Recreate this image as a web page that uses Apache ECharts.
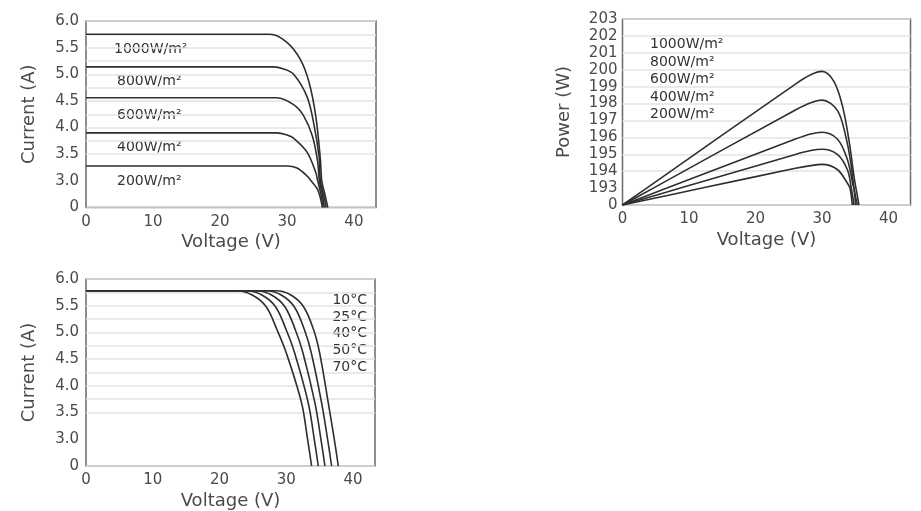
<!DOCTYPE html>
<html>
<head>
<meta charset="utf-8">
<script src="https://cdn.jsdelivr.net/npm/echarts@6/dist/echarts.min.js"></script>
<style>html,body{margin:0;padding:0;background:#fff}#c{width:921px;height:511px}</style>
</head>
<body>
<div id="c"></div>
<script>
// ---------- data ----------
const xTickMax = 43.3;
const irradianceLabels = ['1000W/m²', '800W/m²', '600W/m²', '400W/m²', '200W/m²'];
const tempLabels = ['10°C', '25°C', '40°C', '50°C', '70°C'];

// I-V curves by irradiance  [voltage V, current A]
const iv1000 = [[0,5.75],[20,5.75],[27.5,5.75],[30,5.6],[32,5.28],[33.3,4.85],[34.3,4.22],[35,3.4],[35.2,3.0],[35.7,1.4],[36.1,0]];
const iv800  = [[0,5.14],[20,5.14],[28,5.14],[29.5,5.1],[31,5.0],[33,4.58],[34,4.08],[34.8,3.45],[35.0,3.0],[35.5,1.4],[35.85,0]];
const iv600  = [[0,4.56],[20,4.56],[28.5,4.56],[31,4.43],[32.5,4.22],[33.8,3.84],[34.6,3.35],[34.85,3.0],[35.3,1.4],[35.6,0]];
const iv400  = [[0,3.9],[20,3.9],[28.5,3.9],[30,3.86],[31,3.8],[33,3.54],[34.3,3.16],[34.6,3.0],[35.1,1.4],[35.4,0]];
const iv200  = [[0,3.28],[20,3.28],[30,3.28],[31.5,3.24],[33.1,3.08],[33.6,3.0],[34.6,2.0],[35.3,0]];

// P-V curves by irradiance  [voltage V, power W]
const pv1000 = [[0,0],[3.64,193],[26,199.15],[28.3,199.7],[30,199.9],[31.8,199.3],[33.1,197.8],[34.1,195.7],[34.8,193.7],[35.1,193],[35.55,0]];
const pv800  = [[0,0],[4.63,193],[26,197.62],[28.3,198.05],[30,198.2],[32.3,197.6],[33.6,196.0],[34.4,194.3],[34.8,193],[35.3,0]];
const pv600  = [[0,0],[6.67,193],[26,195.9],[28.3,196.2],[30,196.3],[32.3,195.9],[33.8,194.7],[34.7,193.1],[34.8,193],[35.05,0]];
const pv400  = [[0,0],[8.7,193],[26,194.99],[28.3,195.22],[30,195.3],[32.3,195.0],[33.8,194.1],[34.4,193],[34.8,0]];
const pv200  = [[0,0],[11.96,193],[26,194.17],[28.3,194.33],[30,194.4],[32.3,194.1],[33.8,193.3],[34.2,193],[34.55,0]];

// I-V curves by temperature  [voltage V, current A]
const it10 = [[0,5.78],[20,5.78],[28.5,5.78],[30.7,5.70],[32.6,5.48],[34.1,5.05],[35.0,4.62],[36.3,3.68],[37.2,3.0],[37.8,0]];
const it25 = [[0,5.78],[20,5.78],[27.0,5.78],[29.25,5.70],[31.2,5.48],[32.73,5.05],[33.75,4.62],[35.3,3.68],[36.2,3.0],[36.8,0]];
const it40 = [[0,5.78],[20,5.78],[25.5,5.78],[27.8,5.70],[29.8,5.48],[31.36,5.05],[32.5,4.62],[34.3,3.68],[35.2,3.0],[35.8,0]];
const it50 = [[0,5.78],[15,5.78],[24.0,5.78],[26.35,5.70],[28.4,5.48],[29.99,5.05],[31.25,4.62],[33.3,3.68],[34.2,3.0],[34.8,0]];
const it70 = [[0,5.78],[15,5.78],[22.5,5.78],[24.9,5.70],[27.0,5.48],[28.62,5.05],[30.0,4.62],[32.3,3.68],[33.2,3.0],[33.8,0]];

// ---------- styling ----------
const FONT = '"DejaVu Sans", sans-serif';
const TXT = '#4a4a4a';
const LINE = '#2e2e2e';
const GRIDC = '#e3e3e3';

const chart = echarts.init(document.getElementById('c'), null, {renderer: 'canvas'});

function xAxisCfg(gridIndex) {
  return {
    type: 'value', gridIndex, min: 0, max: xTickMax, interval: 10,
    name: 'Voltage (V)', nameLocation: 'middle', nameGap: 26,
    nameTextStyle: {fontFamily: FONT, fontSize: 18, color: TXT},
    axisLine: {show: false}, axisTick: {show: false}, splitLine: {show: false},
    axisLabel: {fontFamily: FONT, fontSize: 15, color: TXT, margin: 7, showMaxLabel: false}
  };
}
function currentAxis(gridIndex) {
  return {
    type: 'value', gridIndex, min: 0, max: 6, interval: 0.5,
    breaks: [{start: 0, end: 3, gap: 0.5}],
    breakArea: {show: false},
    name: 'Current (A)', nameLocation: 'middle', nameGap: 48,
    nameTextStyle: {fontFamily: FONT, fontSize: 18, color: TXT},
    axisLine: {show: false}, axisTick: {show: false},
    axisLabel: {fontFamily: FONT, fontSize: 15, color: TXT, margin: 7,
      formatter: v => v === 0 ? '0' : v.toFixed(1)},
    splitLine: {show: true, lineStyle: {color: GRIDC, width: 1.5}},
    minorTick: {show: false, splitNumber: 2},
    minorSplitLine: {show: true, lineStyle: {color: GRIDC, width: 1.5}}
  };
}
const powerAxis = {
  type: 'value', gridIndex: 1, min: 0, max: 203, interval: 1,
  breaks: [{start: 0, end: 193, gap: 1}],
  breakArea: {show: false},
  name: 'Power (W)', nameLocation: 'middle', nameGap: 49,
  nameTextStyle: {fontFamily: FONT, fontSize: 18, color: TXT},
  axisLine: {show: false}, axisTick: {show: false},
  axisLabel: {fontFamily: FONT, fontSize: 15, color: TXT, margin: 5},
  splitLine: {show: true, lineStyle: {color: GRIDC, width: 1.5}}
};

function lineSeries(data, xi, yi) {
  return {type: 'line', xAxisIndex: xi, yAxisIndex: yi, data, showSymbol: false,
    smooth: 0.35, lineStyle: {color: LINE, width: 1.6}, silent: true, animation: false, z: 3};
}

const ivSets = [iv1000, iv800, iv600, iv400, iv200];
const pvSets = [pv1000, pv800, pv600, pv400, pv200];
const itSets = [it10, it25, it40, it50, it70];

const series = [];
ivSets.forEach(d => series.push(lineSeries(d, 0, 0)));
pvSets.forEach(d => series.push(lineSeries(d, 1, 1)));
itSets.forEach(d => series.push(lineSeries(d, 2, 2)));

const labelFont = '14px ' + FONT;
const graphic = [];
const ivLabelY = [49, 81, 115, 147, 181];
irradianceLabels.forEach((t, i) => graphic.push({type: 'text', x: i === 0 ? 114 : 117, y: ivLabelY[i], silent: true,
  style: {text: t, font: labelFont, fill: '#333', align: 'left', verticalAlign: 'middle'}}));
const pvLabelY = [44, 62, 79.5, 97, 114];
irradianceLabels.forEach((t, i) => graphic.push({type: 'text', x: 650, y: pvLabelY[i], silent: true,
  style: {text: t, font: labelFont, fill: '#333', align: 'left', verticalAlign: 'middle'}}));
const tLabelY = [300, 317, 333.5, 350, 367];
tempLabels.forEach((t, i) => graphic.push({type: 'text', x: 367, y: tLabelY[i], silent: true,
  style: {text: t, font: labelFont, fill: '#333', align: 'right', verticalAlign: 'middle'}}));

chart.setOption({
  animation: false,
  backgroundColor: '#fff',
  grid: [
    {left: 86, top: 21, width: 290, height: 186.5, show: true, borderColor: '#6a6a6a', borderWidth: 1.5, backgroundColor: 'transparent'},
    {left: 622.5, top: 19, width: 288, height: 186, show: true, borderColor: '#6a6a6a', borderWidth: 1.5, backgroundColor: 'transparent'},
    {left: 86, top: 279, width: 289, height: 187, show: true, borderColor: '#6a6a6a', borderWidth: 1.5, backgroundColor: 'transparent'}
  ],
  xAxis: [xAxisCfg(0), xAxisCfg(1), xAxisCfg(2)],
  yAxis: [currentAxis(0), powerAxis, currentAxis(2)],
  series,
  graphic
});
</script>
</body>
</html>
